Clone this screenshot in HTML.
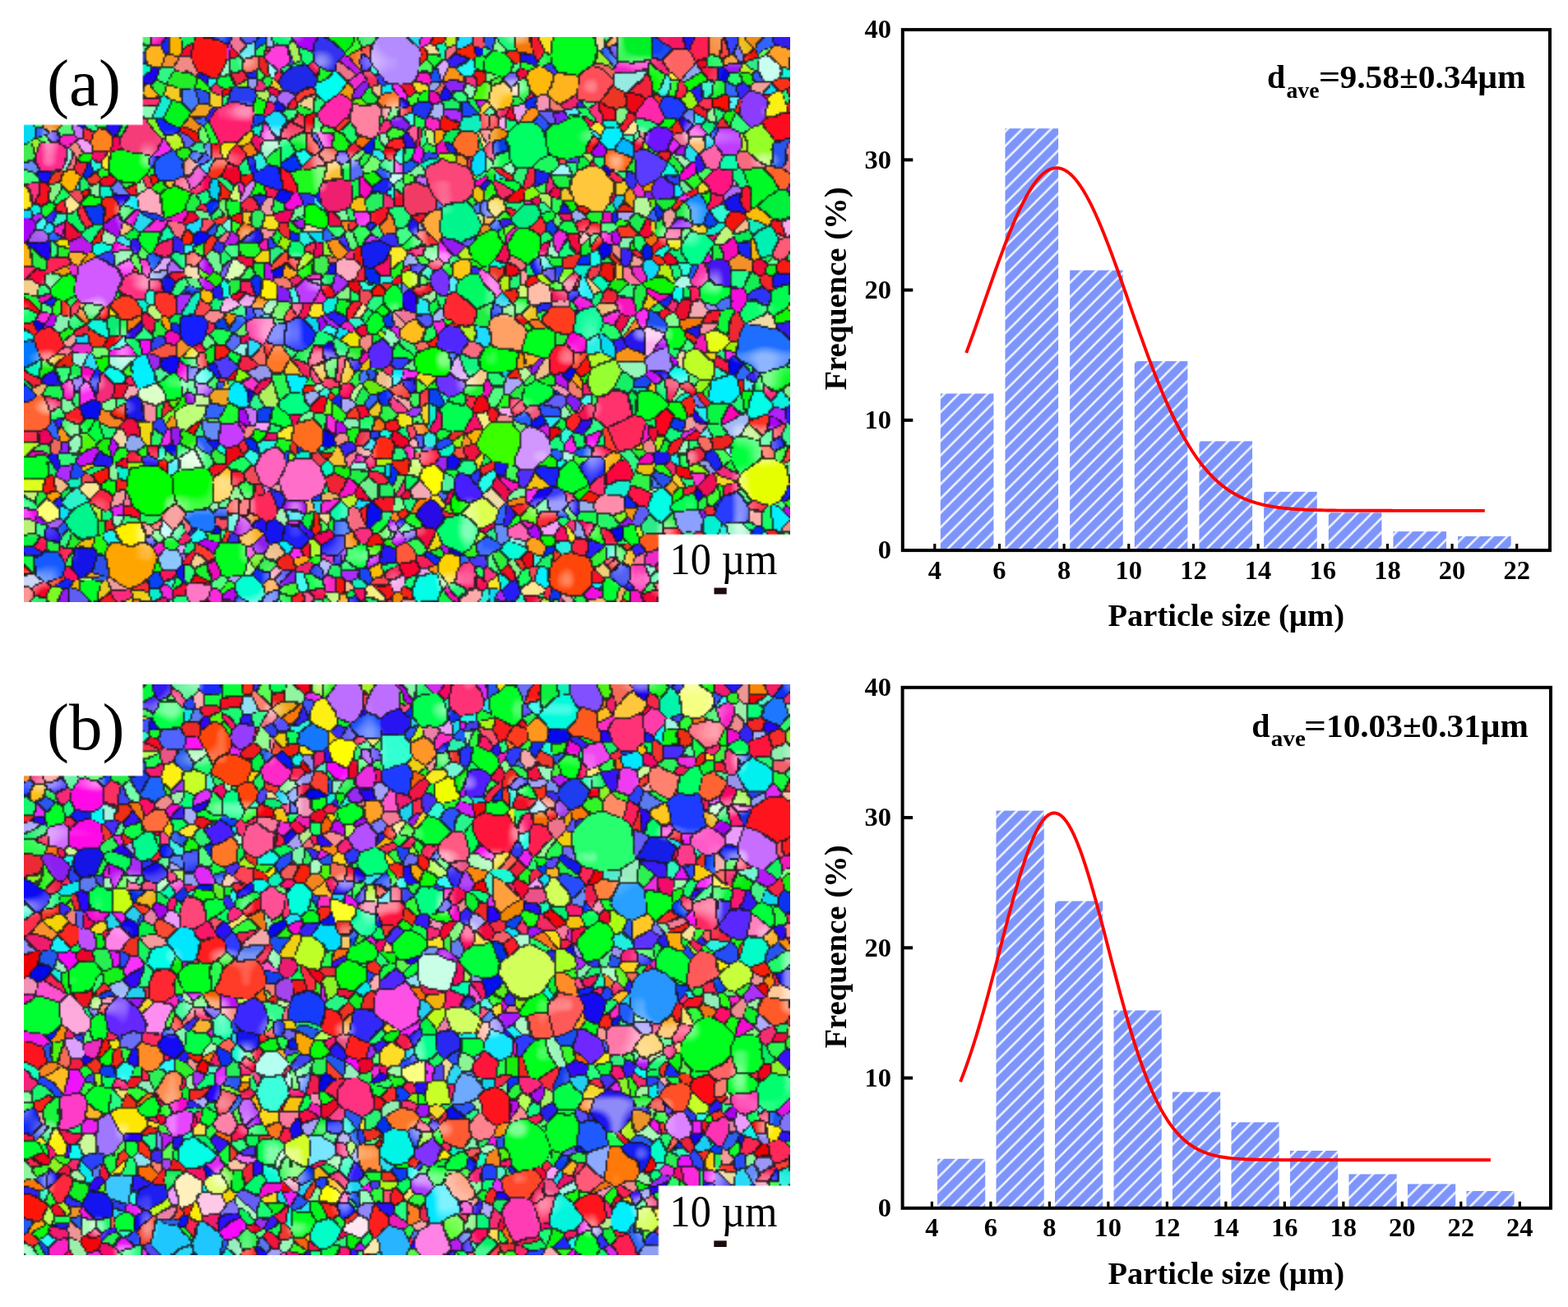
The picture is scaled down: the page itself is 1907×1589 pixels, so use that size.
<!DOCTYPE html>
<html><head><meta charset="utf-8"><title>EBSD maps and grain size distributions</title>
<style>
html,body{margin:0;padding:0;background:#fff;}
body{width:1907px;height:1589px;position:relative;overflow:hidden;}
.map{position:absolute;filter:blur(0.6px);}
#m1{left:29px;top:45px;width:932px;height:687px;}
#m2{left:29px;top:832px;width:932px;height:694px;}
svg{position:absolute;left:0;top:0;filter:blur(0.45px);}
svg text{font-family:"Liberation Serif","Times New Roman",Times,serif;fill:#000;}
</style></head><body>
<canvas id="m1" class="map" width="932" height="687"></canvas>
<canvas id="m2" class="map" width="932" height="694"></canvas>
<svg width="1907" height="1589" xmlns="http://www.w3.org/2000/svg">
<defs>
<pattern id="h1" patternUnits="userSpaceOnUse" width="17.5" height="17.5" x="0" y="0">
<rect width="17.5" height="17.5" fill="#7d95fb"/>
<path d="M-4,4 L4,-4 M0,17.5 L17.5,0 M13.5,21.5 L21.5,13.5" stroke="#eef2ff" stroke-width="2.6"/>
</pattern>
<pattern id="h2" patternUnits="userSpaceOnUse" width="17.5" height="17.5" x="0" y="0">
<rect width="17.5" height="17.5" fill="#7d95fb"/>
<path d="M-4,4 L4,-4 M0,17.5 L17.5,0 M13.5,21.5 L21.5,13.5" stroke="#eef2ff" stroke-width="2.6"/>
</pattern>
</defs>
<text x="57" y="128" font-size="81">(a)</text>
<text x="57" y="910.5" font-size="81">(b)</text>
<text x="814.5" y="698.3" font-size="54" textLength="131" lengthAdjust="spacingAndGlyphs">10 µm</text>
<rect x="868.5" y="714.6" width="15.2" height="7.8" fill="#1e0c0c"/>
<text x="814.5" y="1491.1" font-size="54" textLength="131" lengthAdjust="spacingAndGlyphs">10 µm</text>
<rect x="868.3" y="1508.4" width="15.4" height="7.6" fill="#1e0c0c"/>
<g id="chart1">
<rect x="1143.83" y="478.5" width="64.6" height="190.6" fill="url(#h1)"/>
<rect x="1222.49" y="156.2" width="64.6" height="512.9" fill="url(#h1)"/>
<rect x="1301.15" y="328.59" width="64.6" height="340.51" fill="url(#h1)"/>
<rect x="1379.81" y="439.1" width="64.6" height="230" fill="url(#h1)"/>
<rect x="1458.47" y="536.41" width="64.6" height="132.69" fill="url(#h1)"/>
<rect x="1537.13" y="597.9" width="64.6" height="71.2" fill="url(#h1)"/>
<rect x="1615.79" y="623.3" width="64.6" height="45.8" fill="url(#h1)"/>
<rect x="1694.45" y="646.11" width="64.6" height="22.99" fill="url(#h1)"/>
<rect x="1773.11" y="651.99" width="64.6" height="17.11" fill="url(#h1)"/>
<polyline points="1175.19,429 1178.34,420.39 1181.49,411.66 1184.65,402.83 1187.8,393.91 1190.95,384.94 1194.1,375.92 1197.26,366.89 1200.41,357.85 1203.56,348.85 1206.72,339.89 1209.87,331.02 1213.02,322.24 1216.18,313.59 1219.33,305.09 1222.48,296.78 1225.64,288.67 1228.79,280.79 1231.94,273.17 1235.09,265.83 1238.25,258.8 1241.4,252.11 1244.55,245.77 1247.71,239.81 1250.86,234.25 1254.01,229.11 1257.17,224.41 1260.32,220.17 1263.47,216.39 1266.63,213.11 1269.78,210.32 1272.93,208.04 1276.08,206.28 1279.24,205.05 1282.39,204.34 1285.54,204.17 1288.7,204.53 1291.85,205.42 1295,206.84 1298.16,208.78 1301.31,211.23 1304.46,214.2 1307.62,217.65 1310.77,221.59 1313.92,226 1317.07,230.85 1320.23,236.14 1323.38,241.84 1326.53,247.93 1329.69,254.4 1332.84,261.21 1335.99,268.35 1339.15,275.79 1342.3,283.5 1345.45,291.46 1348.61,299.65 1351.76,308.03 1354.91,316.58 1358.07,325.28 1361.22,334.09 1364.37,343 1367.52,351.98 1370.68,361 1373.83,370.03 1376.98,379.06 1380.14,388.07 1383.29,397.02 1386.44,405.91 1389.6,414.71 1392.75,423.4 1395.9,431.96 1399.06,440.39 1402.21,448.65 1405.36,456.75 1408.51,464.67 1411.67,472.4 1414.82,479.92 1417.97,487.24 1421.13,494.34 1424.28,501.21 1427.43,507.85 1430.59,514.26 1433.74,520.44 1436.89,526.38 1440.05,532.08 1443.2,537.54 1446.35,542.77 1449.5,547.76 1452.66,552.52 1455.81,557.06 1458.96,561.36 1462.12,565.45 1465.27,569.32 1468.42,572.99 1471.58,576.45 1474.73,579.71 1477.88,582.78 1481.04,585.67 1484.19,588.37 1487.34,590.91 1490.49,593.29 1493.65,595.51 1496.8,597.58 1499.95,599.51 1503.11,601.3 1506.26,602.97 1509.41,604.51 1512.57,605.94 1515.72,607.26 1518.87,608.48 1522.03,609.61 1525.18,610.64 1528.33,611.6 1531.48,612.47 1534.64,613.27 1537.79,614 1540.94,614.67 1544.1,615.28 1547.25,615.84 1550.4,616.35 1553.56,616.81 1556.71,617.23 1559.86,617.6 1563.02,617.95 1566.17,618.26 1569.32,618.54 1572.47,618.79 1575.63,619.01 1578.78,619.22 1581.93,619.4 1585.09,619.56 1588.24,619.71 1591.39,619.84 1594.55,619.96 1597.7,620.06 1600.85,620.15 1604.01,620.24 1607.16,620.31 1610.31,620.37 1613.47,620.43 1616.62,620.48 1619.77,620.53 1622.92,620.56 1626.08,620.6 1629.23,620.63 1632.38,620.66 1635.54,620.68 1638.69,620.7 1641.84,620.72 1645,620.73 1648.15,620.75 1651.3,620.76 1654.46,620.77 1657.61,620.78 1660.76,620.79 1663.91,620.79 1667.07,620.8 1670.22,620.8 1673.37,620.81 1676.53,620.81 1679.68,620.82 1682.83,620.82 1685.99,620.82 1689.14,620.82 1692.29,620.82 1695.45,620.83 1698.6,620.83 1701.75,620.83 1704.9,620.83 1708.06,620.83 1711.21,620.83 1714.36,620.83 1717.52,620.83 1720.67,620.83 1723.82,620.83 1726.98,620.83 1730.13,620.83 1733.28,620.83 1736.44,620.83 1739.59,620.83 1742.74,620.83 1745.89,620.83 1749.05,620.83 1752.2,620.83 1755.35,620.83 1758.51,620.83 1761.66,620.83 1764.81,620.83 1767.97,620.83 1771.12,620.83 1774.27,620.83 1777.43,620.83 1780.58,620.83 1783.73,620.83 1786.88,620.83 1790.04,620.83 1793.19,620.83 1796.34,620.83 1799.5,620.83 1802.65,620.83 1805.8,620.83" fill="none" stroke="#ff0000" stroke-width="3.9" stroke-linejoin="round"/>
<rect x="1097.8" y="36.1" width="787.2" height="633" fill="none" stroke="#000" stroke-width="4.0"/>
<text x="1084" y="679.3" font-size="32.5" font-weight="bold" text-anchor="end">0</text>
<line x1="1097.8" y1="510.85" x2="1110.3" y2="510.85" stroke="#000" stroke-width="4.0"/>
<text x="1084" y="521.05" font-size="32.5" font-weight="bold" text-anchor="end">10</text>
<line x1="1097.8" y1="352.6" x2="1110.3" y2="352.6" stroke="#000" stroke-width="4.0"/>
<text x="1084" y="362.8" font-size="32.5" font-weight="bold" text-anchor="end">20</text>
<line x1="1097.8" y1="194.35" x2="1110.3" y2="194.35" stroke="#000" stroke-width="4.0"/>
<text x="1084" y="204.55" font-size="32.5" font-weight="bold" text-anchor="end">30</text>
<text x="1084" y="46.3" font-size="32.5" font-weight="bold" text-anchor="end">40</text>
<line x1="1136.8" y1="669.1" x2="1136.8" y2="661.1" stroke="#000" stroke-width="3.2"/>
<text x="1136.8" y="703.5" font-size="32.5" font-weight="bold" text-anchor="middle">4</text>
<line x1="1215.46" y1="669.1" x2="1215.46" y2="661.1" stroke="#000" stroke-width="3.2"/>
<text x="1215.46" y="703.5" font-size="32.5" font-weight="bold" text-anchor="middle">6</text>
<line x1="1294.12" y1="669.1" x2="1294.12" y2="661.1" stroke="#000" stroke-width="3.2"/>
<text x="1294.12" y="703.5" font-size="32.5" font-weight="bold" text-anchor="middle">8</text>
<line x1="1372.78" y1="669.1" x2="1372.78" y2="661.1" stroke="#000" stroke-width="3.2"/>
<text x="1372.78" y="703.5" font-size="32.5" font-weight="bold" text-anchor="middle">10</text>
<line x1="1451.44" y1="669.1" x2="1451.44" y2="661.1" stroke="#000" stroke-width="3.2"/>
<text x="1451.44" y="703.5" font-size="32.5" font-weight="bold" text-anchor="middle">12</text>
<line x1="1530.1" y1="669.1" x2="1530.1" y2="661.1" stroke="#000" stroke-width="3.2"/>
<text x="1530.1" y="703.5" font-size="32.5" font-weight="bold" text-anchor="middle">14</text>
<line x1="1608.76" y1="669.1" x2="1608.76" y2="661.1" stroke="#000" stroke-width="3.2"/>
<text x="1608.76" y="703.5" font-size="32.5" font-weight="bold" text-anchor="middle">16</text>
<line x1="1687.42" y1="669.1" x2="1687.42" y2="661.1" stroke="#000" stroke-width="3.2"/>
<text x="1687.42" y="703.5" font-size="32.5" font-weight="bold" text-anchor="middle">18</text>
<line x1="1766.08" y1="669.1" x2="1766.08" y2="661.1" stroke="#000" stroke-width="3.2"/>
<text x="1766.08" y="703.5" font-size="32.5" font-weight="bold" text-anchor="middle">20</text>
<line x1="1844.74" y1="669.1" x2="1844.74" y2="661.1" stroke="#000" stroke-width="3.2"/>
<text x="1844.74" y="703.5" font-size="32.5" font-weight="bold" text-anchor="middle">22</text>
<text x="1347.5" y="761" font-size="38.7" font-weight="bold" textLength="287.5" lengthAdjust="spacingAndGlyphs">Particle size (µm)</text>
<text transform="translate(1029 474.5) rotate(-90)" x="0" y="0" font-size="38.7" font-weight="bold" textLength="247" lengthAdjust="spacingAndGlyphs">Frequence (%)</text>
<text x="1541" y="107.1" font-size="40" font-weight="bold">d</text>
<text x="1564.5" y="118.7" font-size="27.5" font-weight="bold" textLength="40" lengthAdjust="spacingAndGlyphs">ave</text>
<text x="1603.8" y="107.1" font-size="40" font-weight="bold" textLength="26.5" lengthAdjust="spacingAndGlyphs">=</text>
<text x="1629.5" y="107.1" font-size="40" font-weight="bold" textLength="226" lengthAdjust="spacingAndGlyphs">9.58±0.34µm</text>
</g>
<g id="chart2">
<rect x="1140.05" y="1408.81" width="58.2" height="59.99" fill="url(#h2)"/>
<rect x="1211.54" y="985.6" width="58.2" height="483.2" fill="url(#h2)"/>
<rect x="1283.03" y="1095.5" width="58.2" height="373.3" fill="url(#h2)"/>
<rect x="1354.52" y="1228.4" width="58.2" height="240.4" fill="url(#h2)"/>
<rect x="1426.01" y="1327.59" width="58.2" height="141.21" fill="url(#h2)"/>
<rect x="1497.5" y="1364.4" width="58.2" height="104.4" fill="url(#h2)"/>
<rect x="1568.99" y="1399" width="58.2" height="69.8" fill="url(#h2)"/>
<rect x="1640.48" y="1427.5" width="58.2" height="41.3" fill="url(#h2)"/>
<rect x="1711.97" y="1439.49" width="58.2" height="29.31" fill="url(#h2)"/>
<rect x="1783.46" y="1448.01" width="58.2" height="20.79" fill="url(#h2)"/>
<polyline points="1168,1315.19 1171.23,1306.96 1174.45,1298.29 1177.67,1289.19 1180.9,1279.65 1184.12,1269.69 1187.35,1259.34 1190.57,1248.61 1193.8,1237.52 1197.02,1226.11 1200.25,1214.42 1203.47,1202.47 1206.7,1190.32 1209.92,1178.02 1213.14,1165.6 1216.37,1153.14 1219.59,1140.68 1222.82,1128.28 1226.04,1116.02 1229.27,1103.95 1232.49,1092.15 1235.72,1080.67 1238.94,1069.59 1242.17,1058.97 1245.39,1048.88 1248.62,1039.39 1251.84,1030.54 1255.06,1022.41 1258.29,1015.05 1261.51,1008.5 1264.74,1002.81 1267.96,998.02 1271.19,994.17 1274.41,991.27 1277.64,989.36 1280.86,988.44 1284.09,988.52 1287.31,989.61 1290.53,991.68 1293.76,994.74 1296.98,998.75 1300.21,1003.69 1303.43,1009.52 1306.66,1016.21 1309.88,1023.7 1313.11,1031.96 1316.33,1040.91 1319.56,1050.51 1322.78,1060.69 1326,1071.39 1329.23,1082.54 1332.45,1094.08 1335.68,1105.93 1338.9,1118.03 1342.13,1130.32 1345.35,1142.73 1348.58,1155.2 1351.8,1167.66 1355.03,1180.06 1358.25,1192.34 1361.47,1204.46 1364.7,1216.37 1367.92,1228.02 1371.15,1239.38 1374.37,1250.4 1377.6,1261.08 1380.82,1271.37 1384.05,1281.25 1387.27,1290.72 1390.5,1299.76 1393.72,1308.35 1396.94,1316.5 1400.17,1324.2 1403.39,1331.46 1406.62,1338.28 1409.84,1344.66 1413.07,1350.62 1416.29,1356.16 1419.52,1361.31 1422.74,1366.07 1425.97,1370.46 1429.19,1374.5 1432.41,1378.21 1435.64,1381.6 1438.86,1384.69 1442.09,1387.51 1445.31,1390.06 1448.54,1392.37 1451.76,1394.45 1454.99,1396.32 1458.21,1398 1461.44,1399.5 1464.66,1400.84 1467.88,1402.04 1471.11,1403.09 1474.33,1404.03 1477.56,1404.86 1480.78,1405.59 1484.01,1406.23 1487.23,1406.79 1490.46,1407.27 1493.68,1407.7 1496.91,1408.07 1500.13,1408.39 1503.36,1408.67 1506.58,1408.91 1509.8,1409.11 1513.03,1409.29 1516.25,1409.44 1519.48,1409.57 1522.7,1409.68 1525.93,1409.77 1529.15,1409.85 1532.38,1409.92 1535.6,1409.97 1538.83,1410.02 1542.05,1410.06 1545.27,1410.09 1548.5,1410.12 1551.72,1410.14 1554.95,1410.16 1558.17,1410.18 1561.4,1410.19 1564.62,1410.2 1567.85,1410.21 1571.07,1410.22 1574.3,1410.22 1577.52,1410.23 1580.74,1410.23 1583.97,1410.23 1587.19,1410.24 1590.42,1410.24 1593.64,1410.24 1596.87,1410.24 1600.09,1410.24 1603.32,1410.24 1606.54,1410.24 1609.77,1410.25 1612.99,1410.25 1616.21,1410.25 1619.44,1410.25 1622.66,1410.25 1625.89,1410.25 1629.11,1410.25 1632.34,1410.25 1635.56,1410.25 1638.79,1410.25 1642.01,1410.25 1645.24,1410.25 1648.46,1410.25 1651.68,1410.25 1654.91,1410.25 1658.13,1410.25 1661.36,1410.25 1664.58,1410.25 1667.81,1410.25 1671.03,1410.25 1674.26,1410.25 1677.48,1410.25 1680.71,1410.25 1683.93,1410.25 1687.15,1410.25 1690.38,1410.25 1693.6,1410.25 1696.83,1410.25 1700.05,1410.25 1703.28,1410.25 1706.5,1410.25 1709.73,1410.25 1712.95,1410.25 1716.18,1410.25 1719.4,1410.25 1722.62,1410.25 1725.85,1410.25 1729.07,1410.25 1732.3,1410.25 1735.52,1410.25 1738.75,1410.25 1741.97,1410.25 1745.2,1410.25 1748.42,1410.25 1751.65,1410.25 1754.87,1410.25 1758.09,1410.25 1761.32,1410.25 1764.54,1410.25 1767.77,1410.25 1770.99,1410.25 1774.22,1410.25 1777.44,1410.25 1780.67,1410.25 1783.89,1410.25 1787.12,1410.25 1790.34,1410.25 1793.57,1410.25 1796.79,1410.25 1800.01,1410.25 1803.24,1410.25 1806.46,1410.25 1809.69,1410.25 1812.91,1410.25" fill="none" stroke="#ff0000" stroke-width="3.9" stroke-linejoin="round"/>
<rect x="1097.6" y="835.8" width="788.4" height="633" fill="none" stroke="#000" stroke-width="4.0"/>
<text x="1084" y="1479" font-size="32.5" font-weight="bold" text-anchor="end">0</text>
<line x1="1097.6" y1="1310.55" x2="1110.1" y2="1310.55" stroke="#000" stroke-width="4.0"/>
<text x="1084" y="1320.75" font-size="32.5" font-weight="bold" text-anchor="end">10</text>
<line x1="1097.6" y1="1152.3" x2="1110.1" y2="1152.3" stroke="#000" stroke-width="4.0"/>
<text x="1084" y="1162.5" font-size="32.5" font-weight="bold" text-anchor="end">20</text>
<line x1="1097.6" y1="994.05" x2="1110.1" y2="994.05" stroke="#000" stroke-width="4.0"/>
<text x="1084" y="1004.25" font-size="32.5" font-weight="bold" text-anchor="end">30</text>
<text x="1084" y="846" font-size="32.5" font-weight="bold" text-anchor="end">40</text>
<line x1="1133.4" y1="1468.8" x2="1133.4" y2="1460.8" stroke="#000" stroke-width="3.2"/>
<text x="1133.4" y="1503.3" font-size="32.5" font-weight="bold" text-anchor="middle">4</text>
<line x1="1204.89" y1="1468.8" x2="1204.89" y2="1460.8" stroke="#000" stroke-width="3.2"/>
<text x="1204.89" y="1503.3" font-size="32.5" font-weight="bold" text-anchor="middle">6</text>
<line x1="1276.38" y1="1468.8" x2="1276.38" y2="1460.8" stroke="#000" stroke-width="3.2"/>
<text x="1276.38" y="1503.3" font-size="32.5" font-weight="bold" text-anchor="middle">8</text>
<line x1="1347.87" y1="1468.8" x2="1347.87" y2="1460.8" stroke="#000" stroke-width="3.2"/>
<text x="1347.87" y="1503.3" font-size="32.5" font-weight="bold" text-anchor="middle">10</text>
<line x1="1419.36" y1="1468.8" x2="1419.36" y2="1460.8" stroke="#000" stroke-width="3.2"/>
<text x="1419.36" y="1503.3" font-size="32.5" font-weight="bold" text-anchor="middle">12</text>
<line x1="1490.85" y1="1468.8" x2="1490.85" y2="1460.8" stroke="#000" stroke-width="3.2"/>
<text x="1490.85" y="1503.3" font-size="32.5" font-weight="bold" text-anchor="middle">14</text>
<line x1="1562.34" y1="1468.8" x2="1562.34" y2="1460.8" stroke="#000" stroke-width="3.2"/>
<text x="1562.34" y="1503.3" font-size="32.5" font-weight="bold" text-anchor="middle">16</text>
<line x1="1633.83" y1="1468.8" x2="1633.83" y2="1460.8" stroke="#000" stroke-width="3.2"/>
<text x="1633.83" y="1503.3" font-size="32.5" font-weight="bold" text-anchor="middle">18</text>
<line x1="1705.32" y1="1468.8" x2="1705.32" y2="1460.8" stroke="#000" stroke-width="3.2"/>
<text x="1705.32" y="1503.3" font-size="32.5" font-weight="bold" text-anchor="middle">20</text>
<line x1="1776.81" y1="1468.8" x2="1776.81" y2="1460.8" stroke="#000" stroke-width="3.2"/>
<text x="1776.81" y="1503.3" font-size="32.5" font-weight="bold" text-anchor="middle">22</text>
<line x1="1848.3" y1="1468.8" x2="1848.3" y2="1460.8" stroke="#000" stroke-width="3.2"/>
<text x="1848.3" y="1503.3" font-size="32.5" font-weight="bold" text-anchor="middle">24</text>
<text x="1347.5" y="1561" font-size="38.7" font-weight="bold" textLength="287.5" lengthAdjust="spacingAndGlyphs">Particle size (µm)</text>
<text transform="translate(1029 1274.5) rotate(-90)" x="0" y="0" font-size="38.7" font-weight="bold" textLength="247" lengthAdjust="spacingAndGlyphs">Frequence (%)</text>
<text x="1522.3" y="896.4" font-size="40" font-weight="bold">d</text>
<text x="1545.8" y="907.3" font-size="27.5" font-weight="bold" textLength="42" lengthAdjust="spacingAndGlyphs">ave</text>
<text x="1586" y="896.4" font-size="40" font-weight="bold" textLength="27" lengthAdjust="spacingAndGlyphs">=</text>
<text x="1613" y="896.4" font-size="40" font-weight="bold" textLength="246" lengthAdjust="spacingAndGlyphs">10.03±0.31µm</text>
</g>
</svg>
<script>(function(){
function rng(a){return function(){a|=0;a=a+0x6D2B79F5|0;var t=Math.imul(a^a>>>15,1|a);t=t+Math.imul(t^t>>>7,61|t)^t;return((t^t>>>14)>>>0)/4294967296;};}
function nf(R,W,H,cs){var nx=Math.ceil(W/cs)+3,ny=Math.ceil(H/cs)+3,g=new Float32Array(nx*ny);for(var i=0;i<g.length;i++)g[i]=R()*2-1;
 return function(x,y){x=x<0?0:x;y=y<0?0:y;var fx=x/cs,fy=y/cs,ix=fx|0,iy=fy|0,tx=fx-ix,ty=fy-iy;tx=tx*tx*(3-2*tx);ty=ty*ty*(3-2*ty);var i0=iy*nx+ix;
 var a=g[i0],b=g[i0+1],c=g[i0+nx],d=g[i0+nx+1];return (a+(b-a)*tx)*(1-ty)+(c+(d-c)*tx)*ty;};}
var HW=[[115,150,.25],[335,368,.26],[222,250,.18],[268,318,.11],[160,192,.09],[22,58,.08],[75,105,.03]];
function hsv(h,s,v){h=((h%360)+360)%360/60;var i=Math.floor(h),f=h-i,p=v*(1-s),q=v*(1-s*f),t=v*(1-s*(1-f)),r,g,b;
 switch(i){case 0:r=v;g=t;b=p;break;case 1:r=q;g=v;b=p;break;case 2:r=p;g=v;b=t;break;case 3:r=p;g=q;b=v;break;case 4:r=t;g=p;b=v;break;default:r=v;g=p;b=q;}
 return [Math.round(r*255),Math.round(g*255),Math.round(b*255)];}
function col(R){var u=R(),k=0,acc=0;for(k=0;k<HW.length;k++){acc+=HW[k][2];if(u<acc)break;}if(k>=HW.length)k=0;
 var h=HW[k][0]+(HW[k][1]-HW[k][0])*R();var s=R()<0.8?0.8+0.2*R():0.3+0.45*R();var v=0.92+0.08*R();return hsv(h,s,v);}
var GA="255,70,20,ff1414;283,150,25,ff1e6e;170,170,22,f53c78;160,200,24,00ff14;205,205,17,1e5aff;60,192,16,ff288c;185,246,14,ffaabe;336,68,13,ff3cdc;187,64,10,ffb41e;123,170,12,ff821e;86,219,11,ffb400;212,243,14,00ff00;290,120,15,283cf0;338,150,11,14dcff;322,216,12,1428ff;483,68,30,b48cff;400,66,17,3232f0;413,52,11,00f014;362,94,18,1e28e6;398,105,14,00fff0;407,134,20,ff28aa;444,146,20,ff82a0;472,125,10,ff7828;604,79,17,00ff28;604,118,15,ffbe14;655,100,17,ffb90a;643,175,26,00ff64;547,224,30,fa4678;510,243,18,f03c64;557,265,26,00f58c;374,220,18,1efa1e;381,261,15,00ff00;568,175,12,ff6e28;580,196,13,00dcff;410,235,17,f01e6e;525,270,13,ffaa3c;637,265,15,00f082;697,66,28,00ff1e;684,105,18,ffb41e;720,105,20,ff505a;690,168,27,00fa3c;709,175,11,f01414;718,228,27,ffc83c;764,62,14,00f028;822,78,17,ff6464;851,58,15,ff1e50;935,85,14,c8fff0;948,70,12,ffa028;942,128,13,faf014;946,154,14,ff0a1e;925,168,20,96ff28;882,171,18,be3cff;866,190,14,ff64aa;803,171,16,6e14ff;786,202,17,5a3cff;817,129,12,1e3cff;792,132,15,ff28aa;915,131,17,8c3cff;875,221,16,ff1482;925,227,18,00fa28;938,220,11,ff6428;848,254,16,148cff;809,232,14,6428ff;945,251,16,00f03c;742,166,13,00f0ff;758,178,11,00b4ff;750,194,14,ff6e1e;118,345,30,d25aff;166,350,19,ff3282;152,376,16,ff3c1e;205,370,15,ff3228;77,348,12,00ff14;60,416,16,ff1e28;237,402,18,141eff;317,399,17,ff46aa;340,407,14,1428ff;172,455,17,00f0ff;207,472,11,00ff32;291,482,12,00ebff;37,430,12,0078ff;39,501,16,ff6432;233,505,16,beff78;183,482,13,dcffc8;277,447,12,503cff;184,293,10,00ff28;290,330,11,dcffb4;323,353,10,fff000;340,509,10,00ff3c;340,434,12,ff7828;590,300,20,00ff14;640,300,20,00ff14;575,352,20,00fa64;560,372,21,ff2832;615,403,23,ffa064;652,420,19,00ff1e;525,440,22,00ff00;605,436,19,00ff14;548,415,18,5028ff;360,407,18,1428ff;421,327,14,ffaabe;372,351,13,be3cff;456,395,13,00ff28;453,308,12,141ef0;459,431,14,5a28ff;503,401,12,ffbe1e;550,507,17,00ff50;655,478,17,00ff3c;359,490,15,00ff82;360,461,10,00f0ff;544,467,13,6e32ff;501,342,10,c8ff14;534,345,13,7832ff;561,327,11,ffc814;592,340,12,ff64e6;656,356,14,ffbeaa;478,364,14,00ff32;928,425,33,1e6eff;848,300,20,00ff8c;933,295,15,00f0b4;950,302,13,ff5a78;680,390,18,ff3c1e;713,392,20,00fa96;680,438,15,ff1432;850,443,18,beff28;873,334,13,4614f0;850,337,11,ff32aa;865,357,14,00ff3c;950,361,13,00fa50;872,413,12,e6ff14;822,410,12,00ff1e;732,461,17,96ff32;745,497,24,ff326e;787,495,17,00ff1e;880,470,17,00f0ff;925,490,12,00ffe6;943,458,15,00fa1e;807,514,11,ff001e;805,442,13,a08cff;795,410,10,ffb4f0;770,412,10,2814f0;799,393,10,1e50f0;185,595,30,00ff00;235,592,28,00ff00;160,685,29,ffa500;330,570,23,ff64be;322,617,18,ff285a;46,568,16,00ff28;283,680,21,00ff1e;58,686,19,145aff;102,680,15,1414e6;101,638,18,00f58c;159,650,13,fff000;206,680,15,8cc8ff;243,631,14,1e78ff;265,590,18,ffc828;282,530,14,c83cff;116,526,10,00ff3c;230,564,11,d2ffd2;306,716,15,00ffd2;336,645,13,1414f0;111,716,13,00ff28;241,720,12,ff78c8;44,587,10,dcff1e;61,620,13,ffff78;366,583,27,ff6ec8;612,540,27,3cff00;645,545,25,d296ff;556,648,25,00ff6e;582,625,19,dcff50;527,627,15,280ae6;526,584,13,ffff00;410,664,13,1e1efa;548,690,15,ffd200;438,677,12,00ff3c;374,531,17,ff6e1e;465,548,13,ff2814;567,594,17,461eff;648,663,11,ffa01e;636,646,11,ff64b4;521,716,17,00ffe6;490,673,12,ff5a3c;561,607,10,00ff00;522,557,13,ff2846;569,699,12,ff2878;359,649,13,1e1efa;573,722,11,ffaaaa;661,703,9,00f0ff;930,585,30,e6ff00;760,528,21,ff285a;744,535,11,ff3c28;905,550,20,00ff3c;800,612,16,00ffe6;837,630,17,8ca0ff;834,611,13,00ff50;890,620,20,283cff;777,604,14,ff1446;694,698,28,ff460a;741,717,14,00ff32;791,656,10,ff5a1e;863,636,13,00f0d2;696,578,18,00ff28;679,611,12,3c3cff;947,630,11,00f0ff;742,614,12,ff8caa;779,700,14,ff3cb4;757,698,12,1e32f0;765,651,12,00ff1e",GB="107,965,20,ff0ae6;105,1015,20,ff0ae6;262,900,20,ff460a;285,935,22,ff460a;300,965,16,ff460a;74,1014,18,d26eff;107,1050,16,1414e6;67,990,16,00ff28;203,868,18,00ff46;205,898,13,5064ff;207,946,11,fff014;235,950,13,c8ff28;190,998,16,ff6e3c;284,975,13,00ff82;265,1011,15,461eff;275,1033,16,ff7828;314,1019,18,ff5a96;187,960,12,1e64ff;176,1030,14,00fa8c;186,1060,11,140af0;71,1052,15,8c1ef0;335,938,14,ff28c8;297,891,14,963cff;420,850,22,be6eff;465,852,20,be6eff;566,847,22,ff3278;522,864,22,00ff50;616,855,20,00ff28;447,881,18,1e50ff;481,877,16,2814f0;393,869,16,fff014;414,916,15,ffff00;380,897,17,1478ff;480,915,22,32ffd2;515,912,15,ff9628;587,927,15,00ff1e;481,945,18,1e3cff;579,952,15,501eff;541,963,14,f0ff00;607,985,13,00ff28;603,1008,25,ff143c;554,1031,20,ff5a82;522,1013,15,00ff32;443,1016,16,b450ff;573,1023,12,00ff50;653,889,15,ff961e;629,894,14,ff3c1e;454,1048,18,00ff78;427,987,12,00ff28;449,984,12,ffa028;656,1019,13,ff1e50;735,1025,38,28ff6e;686,865,22,00fadc;712,847,18,8250ff;714,883,17,ff5a1e;764,861,18,ffc83c;765,888,24,ff3278;796,880,15,ff3caa;846,850,22,f5ff82;819,855,16,00f5aa;859,891,16,ff788c;942,867,16,1e78ff;925,908,12,ff143c;940,995,30,ff141e;922,1030,25,c86eff;835,985,25,1e3cff;808,950,18,ff826e;837,950,17,00ff64;866,957,16,ff6432;917,941,18,00f0f0;746,983,16,ff8c64;764,990,12,ff1e5a;767,927,14,00e6ff;764,950,13,f03cf0;856,1020,18,ff5ac8;800,1032,17,141ee6;721,920,16,f046f0;692,930,12,00ff1e;697,965,16,1e3cf0;830,1043,12,ff3c8c;805,991,10,ffc81e;227,1148,22,00e6ff;255,1155,15,ff1e1e;240,1187,19,00ff1e;197,1198,18,ff2832;295,1192,26,ff3c28;150,1238,24,6428ff;88,1235,20,ffaadc;55,1232,20,00ff32;59,1211,15,ff50d2;100,1187,17,00ff28;143,1140,13,ff82e6;84,1138,11,ff281e;103,1141,11,be50ff;195,1166,14,00ffe6;329,1098,15,ff5096;236,1105,18,ff4678;257,1102,14,00ff3c;150,1094,15,c8ff14;123,1091,13,00ff50;190,1236,15,ff8cf0;183,1284,15,ff8c28;206,1270,14,140af5;306,1238,18,3c28ff;269,1252,15,00ffa0;41,1283,13,ff141e;118,1245,14,00ff28;331,1296,16,b4fff0;91,1275,14,dca0ff;240,1265,13,00ff46;302,1267,14,1414f0;640,1185,32,d2ff5a;651,1225,15,00ff14;653,1288,18,00ff1e;655,1244,15,ff5a46;583,1170,22,00ff3c;530,1180,20,c8ffe6;483,1220,28,ff50e6;479,1195,15,5028ff;372,1224,22,143cfa;444,1242,18,3228fa;400,1240,14,ff1e1e;426,1187,18,00ff0a;440,1157,15,00ff1e;493,1150,18,00ff1e;394,1142,15,00dcff;380,1158,16,beff28;442,1122,14,00ff96;473,1110,16,ff143c;519,1091,17,00ff82;610,1089,15,ffa03c;417,1112,13,ffff28;364,1093,17,00ffdc;564,1240,15,d2ff64;605,1270,17,14e6ff;590,1253,11,ffbeaa;516,1273,14,00ff8c;476,1282,14,ffdc28;435,1270,14,ff1e1e;589,1295,15,ff143c;545,1270,15,2828f0;573,1271,10,00ff3c;503,1300,12,faff82;795,1210,31,2896ff;768,1098,24,28a0ff;797,1097,17,00ff1e;853,1178,23,ff5a5a;816,1173,19,00ff32;860,1270,33,00ff1e;872,1290,20,ff6464;906,1280,22,00ff28;725,1147,22,00ff1e;685,1232,25,ff5a5a;719,1226,17,140af0;699,1239,12,ffaa28;693,1199,12,ff8c28;717,1272,16,6e28ff;757,1263,21,ff78aa;787,1271,14,ffbe28;825,1256,13,ff145a;810,1248,12,ffaa28;895,1185,17,c8ff3c;938,1228,18,ff5a28;945,1205,13,ffc896;914,1155,15,00ffc8;895,1127,16,5a28ff;858,1111,17,ff2864;917,1128,12,ff82be;926,1115,12,00ff3c;680,1087,14,d2ff5a;736,1085,12,ff823c;781,1123,12,ffc828;683,1168,13,aaff28;954,1191,9,1414f0;750,1120,12,aaff14;789,1141,10,5a32ff;205,1507,20,1ec8ff;252,1510,20,1ec8ff;230,1450,18,fff0be;259,1462,15,ffc8e6;263,1438,13,e6ff78;162,1362,20,ffe600;91,1350,18,ff3cc8;218,1367,17,e646ff;237,1402,18,00ffe6;325,1401,18,00ff50;330,1328,19,3cffdc;207,1322,17,ff8c50;184,1345,13,00ff28;119,1337,12,00ff28;39,1363,13,1428f0;37,1397,13,00ff32;37,1471,14,ff140a;121,1463,17,1414f0;132,1383,15,a078ff;184,1452,14,1e1ef0;148,1442,17,3cc8ff;153,1483,12,00ff32;275,1366,12,ff82aa;71,1446,11,ff283c;301,1350,11,be50ff;254,1359,10,00ff32;72,1389,10,fff014;640,1390,30,00ff28;600,1343,19,ff141e;551,1375,18,ff5a32;632,1440,21,ff4628;637,1478,25,ff3cb4;537,1462,23,00e6ff;528,1505,23,ff82e6;481,1510,20,28b4ff;395,1495,18,00ffc8;367,1483,15,00ff1e;390,1397,17,78e6ff;364,1395,16,d2ff28;433,1333,22,ff3282;483,1394,19,00f5e6;451,1405,15,ff8c3c;488,1363,16,ff7828;512,1441,15,aa3cff;530,1430,14,00ff28;559,1443,16,ff8c64;568,1323,18,6eaaff;530,1328,15,c8ff28;521,1399,13,8232ff;583,1367,14,ff828c;555,1412,12,00ff3c;404,1455,9,ffff00;461,1485,14,ff1e1e;431,1491,12,ffe6f0;549,1492,14,64ff3c;660,1470,14,ff1e5a;752,1418,22,ff780a;745,1350,25,1e14f0;716,1381,18,1e5aff;727,1412,15,8caaff;686,1375,22,00ff28;717,1469,18,ff141e;686,1479,17,00f5dc;759,1479,16,00f0ff;786,1485,15,c8ff28;713,1433,15,ff5a78;822,1368,18,dc82ff;872,1375,16,ff32b4;907,1339,18,ff46b4;942,1328,22,00ff6e;856,1323,18,ff0a14;902,1316,16,00ff28;822,1334,15,ff5028;848,1340,13,c8ff28;947,1401,14,ff285a;691,1334,15,00ff46;837,1432,12,ff28dc;716,1510,14,00ff28;762,1513,13,ff1e50;774,1404,13,141ef0;801,1404,12,00ffc8";
function draw(id,seed,ox,oy,cx1,cy1,cx2,cy2,G,GS){
 var cv=document.getElementById(id);if(!cv||!cv.getContext)return;var SC=0.45,WI=Math.round(cv.width*SC),HI=Math.round(cv.height*SC),W=cv.width,H=cv.height;cv.width=WI;cv.height=HI;var ctx=cv.getContext('2d');
 var img=ctx.createImageData(WI,HI),d=img.data,R=rng(seed);
 var F=GS.split(';').map(function(s){var a=s.split(',');var c=parseInt(a[3],16);return [+a[0]-ox,+a[1]-oy,+a[2],c>>16&255,c>>8&255,c&255];});
 var NF=F.length,B=40,bw=Math.ceil(W/B)+1,bh=Math.ceil(H/B)+1,bins=[];for(var i=0;i<bw*bh;i++)bins.push([]);
 for(var k=0;k<NF;k++){var f=F[k],rr=f[2]*0.95+14;for(var by=Math.max(0,Math.floor((f[1]-rr)/B));by<=Math.min(bh-1,Math.floor((f[1]+rr)/B));by++)for(var bx=Math.max(0,Math.floor((f[0]-rr)/B));bx<=Math.min(bw-1,Math.floor((f[0]+rr)/B));bx++)bins[by*bw+bx].push(k);}
 var gw=Math.ceil(W/G)+1,gh=Math.ceil(H/G)+1,N=gw*gh;
 var POOL=[];for(var i=0;i<600;i++)POOL.push(col(R));POOL.sort(function(a,b){return (a[0]*299+a[1]*587+a[2]*114)-(b[0]*299+b[1]*587+b[2]*114);});
 var dens=nf(R,W,H,80),dens2=nf(R,W,H,28);
 var sx=new Float32Array(N+NF),sy=new Float32Array(N+NF),sw=new Float32Array(N+NF),ok=new Uint8Array(N),cr=new Uint8Array(N+NF),cg=new Uint8Array(N+NF),cb=new Uint8Array(N+NF);
 for(var j=0;j<gh;j++)for(var i=0;i<gw;i++){var n=j*gw+i;var x=(i+R())*G,y=(j+R())*G;sx[n]=x;sy[n]=y;
  var p=0.85+0.35*dens(x,y)+0.2*dens2(x,y);ok[n]=R()<p?1:0;
  var r=R();sw[n]=r<0.08?Math.pow(4+5*R(),2):0;
  var t=(i*0.7548776662+j*0.5698402910+0.5*R()*0.0)%1;var c=POOL[Math.min(POOL.length-1,Math.floor(t*POOL.length))];cr[n]=c[0];cg[n]=c[1];cb[n]=c[2];
  var bi=Math.min(bh-1,Math.floor(y/B))*bw+Math.min(bw-1,Math.floor(x/B)),L=bins[bi];
  for(var q=0;q<L.length;q++){var f=F[L[q]],dx=x-f[0],dy=y-f[1];if(dx*dx+dy*dy<f[2]*f[2]*0.95*0.95*0.9){ok[n]=0;break;}}}
 for(var k=0;k<NF;k++){var f=F[k];sx[N+k]=f[0];sy[N+k]=f[1];sw[N+k]=f[2]*f[2]*0.95*0.95;cr[N+k]=f[3];cg[N+k]=f[4];cb[N+k]=f[5];}
 var wx=nf(R,W,H,26),wy=nf(R,W,H,26),wx2=nf(R,W,H,10),wy2=nf(R,W,H,10);
 var nw=nf(R,W,H,30);
 var S=4;
 for(var yi=0;yi<HI;yi++)for(var xi=0;xi<WI;xi++){
  var o=(yi*WI+xi)*4,x=(xi+0.5)/SC,y=(yi+0.5)/SC;
  if((x<cx1&&y<cy1)||(x>=cx2&&y>=cy2)){d[o]=255;d[o+1]=255;d[o+2]=255;d[o+3]=0;continue;}
  var px=x+5.5*wx(x,y)+1.2*wx2(x,y),py=y+5.5*wy(x,y)+1.2*wy2(x,y);
  var gi=Math.floor(px/G),gj=Math.floor(py/G),d1=1e12,d2=1e12,b=0,b2=0;
  for(var jj=gj-S;jj<=gj+S;jj++){if(jj<0||jj>=gh)continue;for(var ii=gi-S;ii<=gi+S;ii++){if(ii<0||ii>=gw)continue;var n=jj*gw+ii;if(!ok[n])continue;
   var dx=sx[n]-px,dy=sy[n]-py,dd=dx*dx+dy*dy-sw[n];if(dd<d1){d2=d1;b2=b;d1=dd;b=n;}else if(dd<d2){d2=dd;b2=n;}}}
  var bxx=Math.min(bw-1,Math.max(0,Math.floor(px/B))),byy=Math.min(bh-1,Math.max(0,Math.floor(py/B))),L=bins[byy*bw+bxx];
  for(var q=0;q<L.length;q++){var n=N+L[q];var dx=sx[n]-px,dy=sy[n]-py,dd=dx*dx+dy*dy-sw[n];if(dd<d1){d2=d1;b2=b;d1=dd;b=n;}else if(dd<d2){d2=dd;b2=n;}}
  var ex=sx[b]-sx[b2],ey=sy[b]-sy[b2],e=(d2-d1)/(2*Math.sqrt(ex*ex+ey*ey)+1e-6);
  var T=1.2;
  if(e<T){var a=0.2;d[o]=20+(cr[b]-20)*a;d[o+1]=20+(cg[b]-20)*a;d[o+2]=25+(cb[b]-25)*a;}else{var wh=nw(x,y)*1.0-0.35;wh=wh<0?0:(wh>0.5?0.5:wh);d[o]=cr[b]+(255-cr[b])*wh;d[o+1]=cg[b]+(255-cg[b])*wh;d[o+2]=cb[b]+(255-cb[b])*wh;}
  d[o+3]=255;
 }
 ctx.putImageData(img,0,0);
}
draw('m1',12345,29,45,145.3,106.5,771.4,603.5,14,GA);
draw('m2',98765,29,832,145,110.3,771.4,609.6,14,GB);
})();
</script>
</body></html>
